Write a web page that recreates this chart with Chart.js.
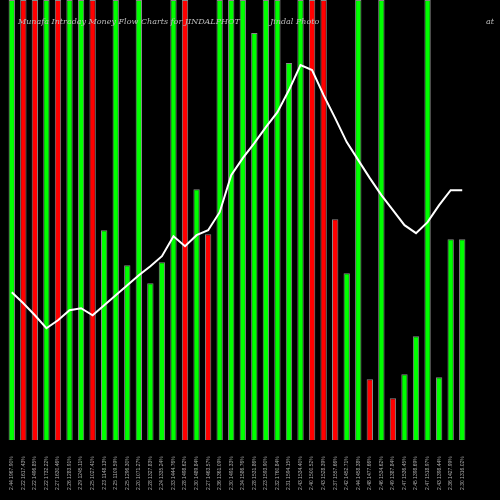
<!DOCTYPE html>
<html><head><meta charset="utf-8">
<script src="https://cdn.jsdelivr.net/npm/chart.js@4"></script>
<style>html,body{margin:0;background:#000}#w{width:500px;height:500px}</style>
</head><body><div id="w"><canvas id="c"></canvas></div>
<script>
const labels = ['2.44 1967.90%','2.22 1617.43%','2.22 1496.85%','2.22 1732.22%','2.27 1630.46%','2.26 1283.91%','2.29 1245.11%','2.25 1027.41%','2.23 1148.13%','2.25 1109.59%','2.25 1296.30%','2.20 1071.27%','2.28 1327.83%','2.24 1335.24%','2.33 1444.76%','2.28 1498.62%','2.30 1489.84%','2.27 1463.57%','2.36 1361.09%','2.30 1491.33%','2.34 1586.76%','2.28 1531.86%','2.23 1593.90%','2.32 1760.84%','2.31 1594.15%','2.43 1534.40%','2.40 1500.52%','2.43 1528.39%','2.37 1557.66%','2.42 1452.71%','2.44 1458.38%','2.48 1477.66%','2.46 1534.62%','2.49 1387.84%','2.47 1536.45%','2.45 1398.69%','2.47 1518.97%','2.43 1398.44%','2.36 1427.99%','2.30 1316.02%'];
const barHeights = [440,440,440,440,440,440,440,440,210,440,175,440,157,178,440,440,251,206,440,440,440,407,440,440,377,440,440,440,221,167,440,61,440,42,66,104,440,63,201,201];
const barColors = ['g','r','r','g','r','g','g','r','g','g','g','g','g','g','g','r','g','r','g','g','g','g','g','g','g','g','r','r','r','g','g','r','g','r','g','g','g','g','g','g'];
const flowLine = [148,137,125,112,120,130,132,125,135,145,155,165,174,184,204,194,205,210,228,265,282,297,313,328,350,375,370,345,322,298,280,262,245,230,215,207,218,235,250,250];

new Chart(document.getElementById('c'), {
  data: {
    labels: labels,
    datasets: [
      {type: 'line', data: flowLine, borderColor: '#fff', borderWidth: 2, pointRadius: 0, tension: 0},
      {type: 'bar', data: barHeights,
       backgroundColor: barColors.map(c => c === 'g' ? '#00ff00' : '#ff0000'),
       borderColor: '#888', borderWidth: 1, barPercentage: 0.55, categoryPercentage: 1}
    ]
  },
  options: {
    responsive: true, maintainAspectRatio: false, animation: false,
    layout: {padding: {left: 6, right: 32, top: 0, bottom: 2}},
    plugins: {legend: {display: false}, tooltip: {enabled: false},
      title: {display: false}},
    scales: {
      x: {grid: {display: false}, border: {display: false},
          ticks: {color: '#aaa', font: {size: 5}, padding: 8, maxRotation: 90, minRotation: 90, autoSkip: false}},
      y: {display: false, min: 0, max: 440}
    }
  },
  plugins: [{
    id: 'head',
    afterDraw(ch) {
      const ctx = ch.ctx;
      ctx.save();
      ctx.fillStyle = '#bbb';
      ctx.font = 'italic 8px "DejaVu Serif", serif';
      ctx.fillText('Munafa Intraday Money Flow Charts for JINDALPHOT', 18, 24);
      ctx.fillText('Jindal Photo', 270, 24);
      ctx.fillText('at', 486, 24);
      ctx.restore();
    }
  }]
});
</script></body></html>
